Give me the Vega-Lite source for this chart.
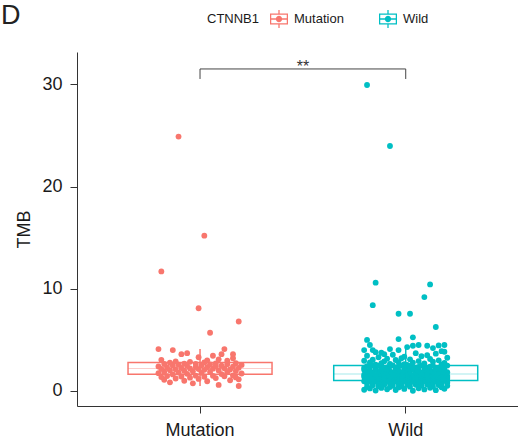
{
"$schema": "https://vega.github.io/schema/vega-lite/v6.json",
"width": 441,
"height": 354,
"autosize": {"type": "none"},
"padding": {"left": 77, "top": 52, "right": 0, "bottom": 36},
"config": {"view": {"stroke": null}, "font": "Liberation Sans"},
"title": {"text": "D", "anchor": "start", "frame": "group", "fontSize": 27, "fontWeight": "normal", "color": "#222222", "dx": -76, "offset": 0, "dy": 40.5, "baseline": "alphabetic"},
"datasets": {
"pts": [
{"g":"Mutation","v":0.49,"k":28},{"g":"Mutation","v":0.59,"k":21},{"g":"Mutation","v":0.75,"k":12},{"g":"Mutation","v":0.85,"k":4},{"g":"Mutation","v":0.95,"k":17},{"g":"Mutation","v":1.0,"k":9},{"g":"Mutation","v":1.05,"k":25},{"g":"Mutation","v":1.1,"k":2},{"g":"Mutation","v":1.14,"k":28},{"g":"Mutation","v":1.18,"k":14},{"g":"Mutation","v":1.22,"k":6},{"g":"Mutation","v":1.26,"k":20},{"g":"Mutation","v":1.3,"k":11},{"g":"Mutation","v":1.33,"k":27},{"g":"Mutation","v":1.36,"k":1},{"g":"Mutation","v":1.39,"k":16},{"g":"Mutation","v":1.42,"k":8},{"g":"Mutation","v":1.44,"k":23},{"g":"Mutation","v":1.46,"k":3},{"g":"Mutation","v":1.48,"k":19},{"g":"Mutation","v":1.5,"k":13},{"g":"Mutation","v":1.52,"k":26},
{"g":"Mutation","v":1.62,"k":5},{"g":"Mutation","v":1.65,"k":22},{"g":"Mutation","v":1.68,"k":10},{"g":"Mutation","v":1.71,"k":29},{"g":"Mutation","v":1.74,"k":0},{"g":"Mutation","v":1.77,"k":15},{"g":"Mutation","v":1.8,"k":7},{"g":"Mutation","v":1.83,"k":24},{"g":"Mutation","v":1.86,"k":18},{"g":"Mutation","v":1.89,"k":2},{"g":"Mutation","v":1.92,"k":12},{"g":"Mutation","v":1.95,"k":27},{"g":"Mutation","v":1.98,"k":9},{"g":"Mutation","v":2.01,"k":21},{"g":"Mutation","v":2.04,"k":4},{"g":"Mutation","v":2.07,"k":16},{"g":"Mutation","v":2.1,"k":25},{"g":"Mutation","v":2.12,"k":6},{"g":"Mutation","v":2.14,"k":14},{"g":"Mutation","v":2.16,"k":1},{"g":"Mutation","v":2.18,"k":19},{"g":"Mutation","v":2.2,"k":11},
{"g":"Mutation","v":2.22,"k":23},{"g":"Mutation","v":2.25,"k":8},{"g":"Mutation","v":2.27,"k":28},{"g":"Mutation","v":2.3,"k":3},{"g":"Mutation","v":2.32,"k":17},{"g":"Mutation","v":2.35,"k":13},{"g":"Mutation","v":2.37,"k":26},{"g":"Mutation","v":2.4,"k":0},{"g":"Mutation","v":2.42,"k":20},{"g":"Mutation","v":2.45,"k":10},{"g":"Mutation","v":2.47,"k":22},{"g":"Mutation","v":2.5,"k":5},{"g":"Mutation","v":2.52,"k":15},{"g":"Mutation","v":2.55,"k":29},{"g":"Mutation","v":2.57,"k":7},{"g":"Mutation","v":2.6,"k":18},{"g":"Mutation","v":2.62,"k":24},{"g":"Mutation","v":2.64,"k":2},{"g":"Mutation","v":2.66,"k":13},{"g":"Mutation","v":2.68,"k":9},{"g":"Mutation","v":2.7,"k":20},{"g":"Mutation","v":2.72,"k":27},
{"g":"Mutation","v":2.76,"k":4},{"g":"Mutation","v":2.8,"k":16},{"g":"Mutation","v":2.85,"k":11},{"g":"Mutation","v":2.9,"k":6},{"g":"Mutation","v":2.96,"k":24},{"g":"Mutation","v":3.0,"k":17},{"g":"Mutation","v":3.05,"k":1},{"g":"Mutation","v":3.1,"k":21},{"g":"Mutation","v":3.2,"k":26},{"g":"Mutation","v":3.3,"k":14},{"g":"Mutation","v":3.45,"k":19},{"g":"Mutation","v":3.6,"k":8},{"g":"Mutation","v":3.6,"k":22},{"g":"Mutation","v":3.6,"k":26},{"g":"Mutation","v":3.7,"k":10},{"g":"Mutation","v":4.0,"k":5},{"g":"Mutation","v":4.1,"k":0},{"g":"Mutation","v":4.1,"k":23},{"g":"Mutation","v":5.7,"k":18},{"g":"Mutation","v":6.8,"k":28},{"g":"Mutation","v":8.1,"k":14},{"g":"Mutation","v":11.7,"k":1},{"g":"Mutation","v":15.2,"k":16},{"g":"Mutation","v":24.9,"k":7},
{"g":"Wild","v":0.02,"k":17},{"g":"Wild","v":0.05,"k":4},{"g":"Wild","v":0.08,"k":25},{"g":"Wild","v":0.1,"k":11},{"g":"Wild","v":0.12,"k":0},{"g":"Wild","v":0.15,"k":21},{"g":"Wild","v":0.17,"k":8},{"g":"Wild","v":0.2,"k":14},{"g":"Wild","v":0.22,"k":28},{"g":"Wild","v":0.25,"k":2},{"g":"Wild","v":0.27,"k":19},{"g":"Wild","v":0.3,"k":6},{"g":"Wild","v":0.32,"k":23},{"g":"Wild","v":0.35,"k":12},{"g":"Wild","v":0.36,"k":27},{"g":"Wild","v":0.38,"k":9},{"g":"Wild","v":0.4,"k":1},{"g":"Wild","v":0.42,"k":16},{"g":"Wild","v":0.44,"k":24},{"g":"Wild","v":0.46,"k":5},{"g":"Wild","v":0.48,"k":13},{"g":"Wild","v":0.5,"k":29},{"g":"Wild","v":0.52,"k":10},{"g":"Wild","v":0.54,"k":20},{"g":"Wild","v":0.56,"k":3},{"g":"Wild","v":0.58,"k":26},{"g":"Wild","v":0.6,"k":7},{"g":"Wild","v":0.61,"k":18},{"g":"Wild","v":0.62,"k":15},{"g":"Wild","v":0.64,"k":22},
{"g":"Wild","v":0.65,"k":19},{"g":"Wild","v":0.66,"k":6},{"g":"Wild","v":0.68,"k":23},{"g":"Wild","v":0.7,"k":12},{"g":"Wild","v":0.71,"k":27},{"g":"Wild","v":0.72,"k":9},{"g":"Wild","v":0.74,"k":1},{"g":"Wild","v":0.75,"k":16},{"g":"Wild","v":0.76,"k":24},{"g":"Wild","v":0.78,"k":5},{"g":"Wild","v":0.79,"k":13},{"g":"Wild","v":0.8,"k":29},{"g":"Wild","v":0.82,"k":10},{"g":"Wild","v":0.83,"k":20},{"g":"Wild","v":0.84,"k":3},{"g":"Wild","v":0.85,"k":26},{"g":"Wild","v":0.86,"k":7},{"g":"Wild","v":0.88,"k":18},{"g":"Wild","v":0.89,"k":15},{"g":"Wild","v":0.9,"k":22},{"g":"Wild","v":0.91,"k":17},{"g":"Wild","v":0.92,"k":4},{"g":"Wild","v":0.93,"k":25},{"g":"Wild","v":0.94,"k":11},{"g":"Wild","v":0.95,"k":0},{"g":"Wild","v":0.96,"k":21},{"g":"Wild","v":0.97,"k":8},{"g":"Wild","v":0.98,"k":14},{"g":"Wild","v":0.99,"k":28},{"g":"Wild","v":1.0,"k":2},
{"g":"Wild","v":1.01,"k":13},{"g":"Wild","v":1.02,"k":29},{"g":"Wild","v":1.03,"k":10},{"g":"Wild","v":1.04,"k":20},{"g":"Wild","v":1.05,"k":3},{"g":"Wild","v":1.06,"k":26},{"g":"Wild","v":1.07,"k":7},{"g":"Wild","v":1.08,"k":18},{"g":"Wild","v":1.09,"k":15},{"g":"Wild","v":1.1,"k":22},
{"g":"Wild","v":1.11,"k":21},{"g":"Wild","v":1.12,"k":8},{"g":"Wild","v":1.13,"k":14},{"g":"Wild","v":1.14,"k":28},{"g":"Wild","v":1.15,"k":2},{"g":"Wild","v":1.16,"k":19},{"g":"Wild","v":1.17,"k":6},{"g":"Wild","v":1.18,"k":23},{"g":"Wild","v":1.19,"k":12},{"g":"Wild","v":1.2,"k":27},{"g":"Wild","v":1.21,"k":9},{"g":"Wild","v":1.22,"k":1},{"g":"Wild","v":1.23,"k":16},{"g":"Wild","v":1.24,"k":24},{"g":"Wild","v":1.25,"k":5},{"g":"Wild","v":1.26,"k":13},{"g":"Wild","v":1.27,"k":29},{"g":"Wild","v":1.28,"k":10},{"g":"Wild","v":1.29,"k":20},{"g":"Wild","v":1.3,"k":3},{"g":"Wild","v":1.31,"k":26},{"g":"Wild","v":1.32,"k":7},{"g":"Wild","v":1.33,"k":18},{"g":"Wild","v":1.34,"k":15},{"g":"Wild","v":1.35,"k":22},{"g":"Wild","v":1.36,"k":17},{"g":"Wild","v":1.37,"k":4},{"g":"Wild","v":1.38,"k":25},{"g":"Wild","v":1.39,"k":11},{"g":"Wild","v":1.4,"k":0},
{"g":"Wild","v":1.41,"k":9},{"g":"Wild","v":1.42,"k":1},{"g":"Wild","v":1.43,"k":16},{"g":"Wild","v":1.44,"k":24},{"g":"Wild","v":1.45,"k":5},{"g":"Wild","v":1.46,"k":13},{"g":"Wild","v":1.47,"k":29},{"g":"Wild","v":1.48,"k":10},{"g":"Wild","v":1.49,"k":20},{"g":"Wild","v":1.5,"k":3},{"g":"Wild","v":1.51,"k":26},{"g":"Wild","v":1.52,"k":7},{"g":"Wild","v":1.53,"k":18},{"g":"Wild","v":1.54,"k":15},{"g":"Wild","v":1.55,"k":22},{"g":"Wild","v":1.56,"k":17},{"g":"Wild","v":1.57,"k":4},{"g":"Wild","v":1.58,"k":25},{"g":"Wild","v":1.59,"k":11},{"g":"Wild","v":1.6,"k":0},{"g":"Wild","v":1.61,"k":21},{"g":"Wild","v":1.62,"k":8},{"g":"Wild","v":1.63,"k":14},{"g":"Wild","v":1.64,"k":28},{"g":"Wild","v":1.65,"k":2},{"g":"Wild","v":1.66,"k":19},{"g":"Wild","v":1.67,"k":6},{"g":"Wild","v":1.68,"k":23},{"g":"Wild","v":1.69,"k":12},{"g":"Wild","v":1.7,"k":27},
{"g":"Wild","v":1.72,"k":22},{"g":"Wild","v":1.73,"k":15},{"g":"Wild","v":1.75,"k":18},{"g":"Wild","v":1.76,"k":7},{"g":"Wild","v":1.78,"k":26},{"g":"Wild","v":1.79,"k":3},{"g":"Wild","v":1.8,"k":20},{"g":"Wild","v":1.82,"k":10},{"g":"Wild","v":1.83,"k":29},{"g":"Wild","v":1.85,"k":13},{"g":"Wild","v":1.86,"k":5},{"g":"Wild","v":1.88,"k":24},{"g":"Wild","v":1.89,"k":16},{"g":"Wild","v":1.9,"k":1},{"g":"Wild","v":1.92,"k":9},{"g":"Wild","v":1.93,"k":27},{"g":"Wild","v":1.95,"k":12},{"g":"Wild","v":1.96,"k":23},{"g":"Wild","v":1.98,"k":6},{"g":"Wild","v":1.99,"k":19},{"g":"Wild","v":2.0,"k":2},{"g":"Wild","v":2.02,"k":28},{"g":"Wild","v":2.03,"k":14},{"g":"Wild","v":2.05,"k":8},{"g":"Wild","v":2.06,"k":21},{"g":"Wild","v":2.08,"k":0},{"g":"Wild","v":2.09,"k":11},{"g":"Wild","v":2.1,"k":25},{"g":"Wild","v":2.12,"k":4},{"g":"Wild","v":2.13,"k":17},
{"g":"Wild","v":2.15,"k":26},{"g":"Wild","v":2.16,"k":7},{"g":"Wild","v":2.18,"k":18},{"g":"Wild","v":2.19,"k":15},{"g":"Wild","v":2.2,"k":22},{"g":"Wild","v":2.22,"k":17},{"g":"Wild","v":2.23,"k":4},{"g":"Wild","v":2.25,"k":25},{"g":"Wild","v":2.26,"k":11},{"g":"Wild","v":2.28,"k":0},{"g":"Wild","v":2.29,"k":21},{"g":"Wild","v":2.3,"k":8},{"g":"Wild","v":2.32,"k":14},{"g":"Wild","v":2.33,"k":28},{"g":"Wild","v":2.35,"k":2},{"g":"Wild","v":2.36,"k":19},{"g":"Wild","v":2.38,"k":6},{"g":"Wild","v":2.39,"k":23},{"g":"Wild","v":2.4,"k":12},{"g":"Wild","v":2.42,"k":27},{"g":"Wild","v":2.43,"k":9},{"g":"Wild","v":2.44,"k":1},{"g":"Wild","v":2.45,"k":16},{"g":"Wild","v":2.46,"k":24},{"g":"Wild","v":2.47,"k":5},{"g":"Wild","v":2.48,"k":13},{"g":"Wild","v":2.49,"k":29},{"g":"Wild","v":2.5,"k":10},{"g":"Wild","v":2.51,"k":20},{"g":"Wild","v":2.52,"k":3},
{"g":"Wild","v":2.55,"k":15},{"g":"Wild","v":2.58,"k":4},{"g":"Wild","v":2.6,"k":27},{"g":"Wild","v":2.63,"k":14},{"g":"Wild","v":2.66,"k":9},{"g":"Wild","v":2.7,"k":21},{"g":"Wild","v":2.72,"k":6},{"g":"Wild","v":2.75,"k":28},{"g":"Wild","v":2.78,"k":17},{"g":"Wild","v":2.8,"k":2},{"g":"Wild","v":2.83,"k":12},{"g":"Wild","v":2.86,"k":24},{"g":"Wild","v":2.9,"k":7},{"g":"Wild","v":2.93,"k":19},{"g":"Wild","v":2.96,"k":0},{"g":"Wild","v":3.0,"k":26},{"g":"Wild","v":3.03,"k":11},{"g":"Wild","v":3.06,"k":3},{"g":"Wild","v":3.1,"k":16},{"g":"Wild","v":3.13,"k":23},{"g":"Wild","v":3.16,"k":8},{"g":"Wild","v":3.2,"k":13},{"g":"Wild","v":3.25,"k":29},{"g":"Wild","v":3.3,"k":5},{"g":"Wild","v":3.35,"k":14},{"g":"Wild","v":3.4,"k":20},{"g":"Wild","v":3.45,"k":1},{"g":"Wild","v":3.5,"k":22},{"g":"Wild","v":3.55,"k":10},{"g":"Wild","v":3.6,"k":7},{"g":"Wild","v":3.65,"k":25},{"g":"Wild","v":3.7,"k":18},{"g":"Wild","v":3.74,"k":6},{"g":"Wild","v":3.8,"k":4},{"g":"Wild","v":3.84,"k":28},{"g":"Wild","v":3.9,"k":27},{"g":"Wild","v":4.0,"k":0},{"g":"Wild","v":4.0,"k":3},{"g":"Wild","v":4.0,"k":12},{"g":"Wild","v":4.1,"k":9},{"g":"Wild","v":4.2,"k":24},{"g":"Wild","v":4.3,"k":15},{"g":"Wild","v":4.43,"k":17},{"g":"Wild","v":4.43,"k":22},{"g":"Wild","v":4.46,"k":26},{"g":"Wild","v":4.5,"k":2},{"g":"Wild","v":4.5,"k":28},{"g":"Wild","v":4.5,"k":19},
{"g":"Wild","v":5.0,"k":1},{"g":"Wild","v":5.08,"k":12},{"g":"Wild","v":5.25,"k":17},{"g":"Wild","v":6.26,"k":25},{"g":"Wild","v":7.56,"k":12},{"g":"Wild","v":7.56,"k":16},{"g":"Wild","v":8.4,"k":3},{"g":"Wild","v":9.19,"k":21},{"g":"Wild","v":10.43,"k":23},{"g":"Wild","v":10.6,"k":4},{"g":"Wild","v":23.98,"k":9},{"g":"Wild","v":29.95,"k":1}
],
"bracket": [
{"g":"Mutation","v":30.54,"o":1},{"g":"Mutation","v":31.52,"o":2},{"g":"Wild","v":31.52,"o":3},{"g":"Wild","v":30.54,"o":4}
],
"sig": [{"g":"Mutation","v":31.2,"t":"**"}]
},
"layer": [
{
"data": {"name": "pts"},
"transform": [{"filter": "datum.g === 'Mutation'"}],
"mark": {"type": "boxplot", "extent": 1.5, "size": 144, "outliers": false,
"box": {"fill": "white", "stroke": "#F8766D", "strokeWidth": 1.5},
"median": {"color": "#F8766D", "thickness": 0.5, "strokeWidth": 1},
"rule": {"stroke": "#F8766D", "strokeWidth": 1.5}},
"encoding": {
"x": {"field": "g", "type": "nominal",
"scale": {"type": "band", "domain": ["Mutation", "Wild"], "paddingInner": 0.582, "paddingOuter": 0.363, "align": 0.536},
"axis": {"title": null, "labelAngle": 0, "labelFontSize": 18, "labelColor": "#1a1a1a", "tickSize": 7, "labelPadding": 8, "domainColor": "#333333", "tickColor": "#333333", "grid": false}},
"y": {"field": "v", "type": "quantitative", "title": "TMB",
"scale": {"domain": [-1.47, 33.18], "nice": false, "zero": false},
"axis": {"values": [0, 10, 20, 30], "title": "TMB", "titleFontSize": 18, "titleFontWeight": "normal", "titleColor": "#1a1a1a", "labelFontSize": 18, "labelColor": "#1a1a1a", "tickSize": 7, "labelPadding": 8, "titlePadding": 8, "domainColor": "#333333", "tickColor": "#333333", "grid": false}}
}
},
{
"data": {"name": "pts"},
"transform": [{"filter": "datum.g === 'Wild'"}],
"mark": {"type": "boxplot", "extent": 1.5, "size": 144, "outliers": false,
"box": {"fill": "white", "stroke": "#00BFC4", "strokeWidth": 1.5},
"median": {"color": "#00BFC4", "thickness": 0.5, "strokeWidth": 1},
"rule": {"stroke": "#00BFC4", "strokeWidth": 1.5}},
"encoding": {
"x": {"field": "g", "type": "nominal"},
"y": {"field": "v", "type": "quantitative", "title": "TMB"}
}
},
{
"data": {"name": "pts"},
"mark": {"type": "point", "filled": true, "size": 34, "opacity": 1},
"encoding": {
"x": {"field": "g", "type": "nominal"},
"xOffset": {"field": "k", "type": "ordinal"},
"y": {"field": "v", "type": "quantitative", "title": "TMB"},
"color": {"field": "g", "type": "nominal",
"scale": {"domain": ["Mutation", "Wild"], "range": ["#F8766D", "#00BFC4"]},
"legend": {"orient": "none", "legendX": 130, "legendY": -42, "direction": "horizontal", "title": "CTNNB1", "titleOrient": "left", "titleFontSize": 13, "titleFontWeight": "normal", "titleColor": "#1a1a1a", "titlePadding": 10, "labelFontSize": 13, "labelColor": "#1a1a1a", "labelOffset": 6, "columnPadding": 35,
"symbolType": "M-1,-0.6H1V-0.46H-1Z M-1,0.46H1V0.6H-1Z M-1,-0.6H-0.86V0.6H-1Z M0.86,-0.6H1V0.6H0.86Z M-1,-0.07H1V0.07H-1Z M-0.07,-1H0.07V-0.6H-0.07Z M-0.07,0.6H0.07V1H-0.07Z M0.35,0A0.35,0.35,0,1,1,-0.35,0A0.35,0.35,0,1,1,0.35,0Z",
"symbolSize": 324, "symbolStrokeWidth": 0}
}
}
},
{
"data": {"name": "bracket"},
"mark": {"type": "line", "color": "#444444", "strokeWidth": 1},
"encoding": {
"x": {"field": "g", "type": "nominal"},
"y": {"field": "v", "type": "quantitative", "title": "TMB"},
"order": {"field": "o", "type": "quantitative"}
}
},
{
"data": {"name": "sig"},
"mark": {"type": "text", "dx": 102.85, "fontSize": 16, "baseline": "alphabetic", "color": "#333333"},
"encoding": {
"x": {"field": "g", "type": "nominal"},
"y": {"field": "v", "type": "quantitative", "title": "TMB"},
"text": {"field": "t"}
}
}
]
}
